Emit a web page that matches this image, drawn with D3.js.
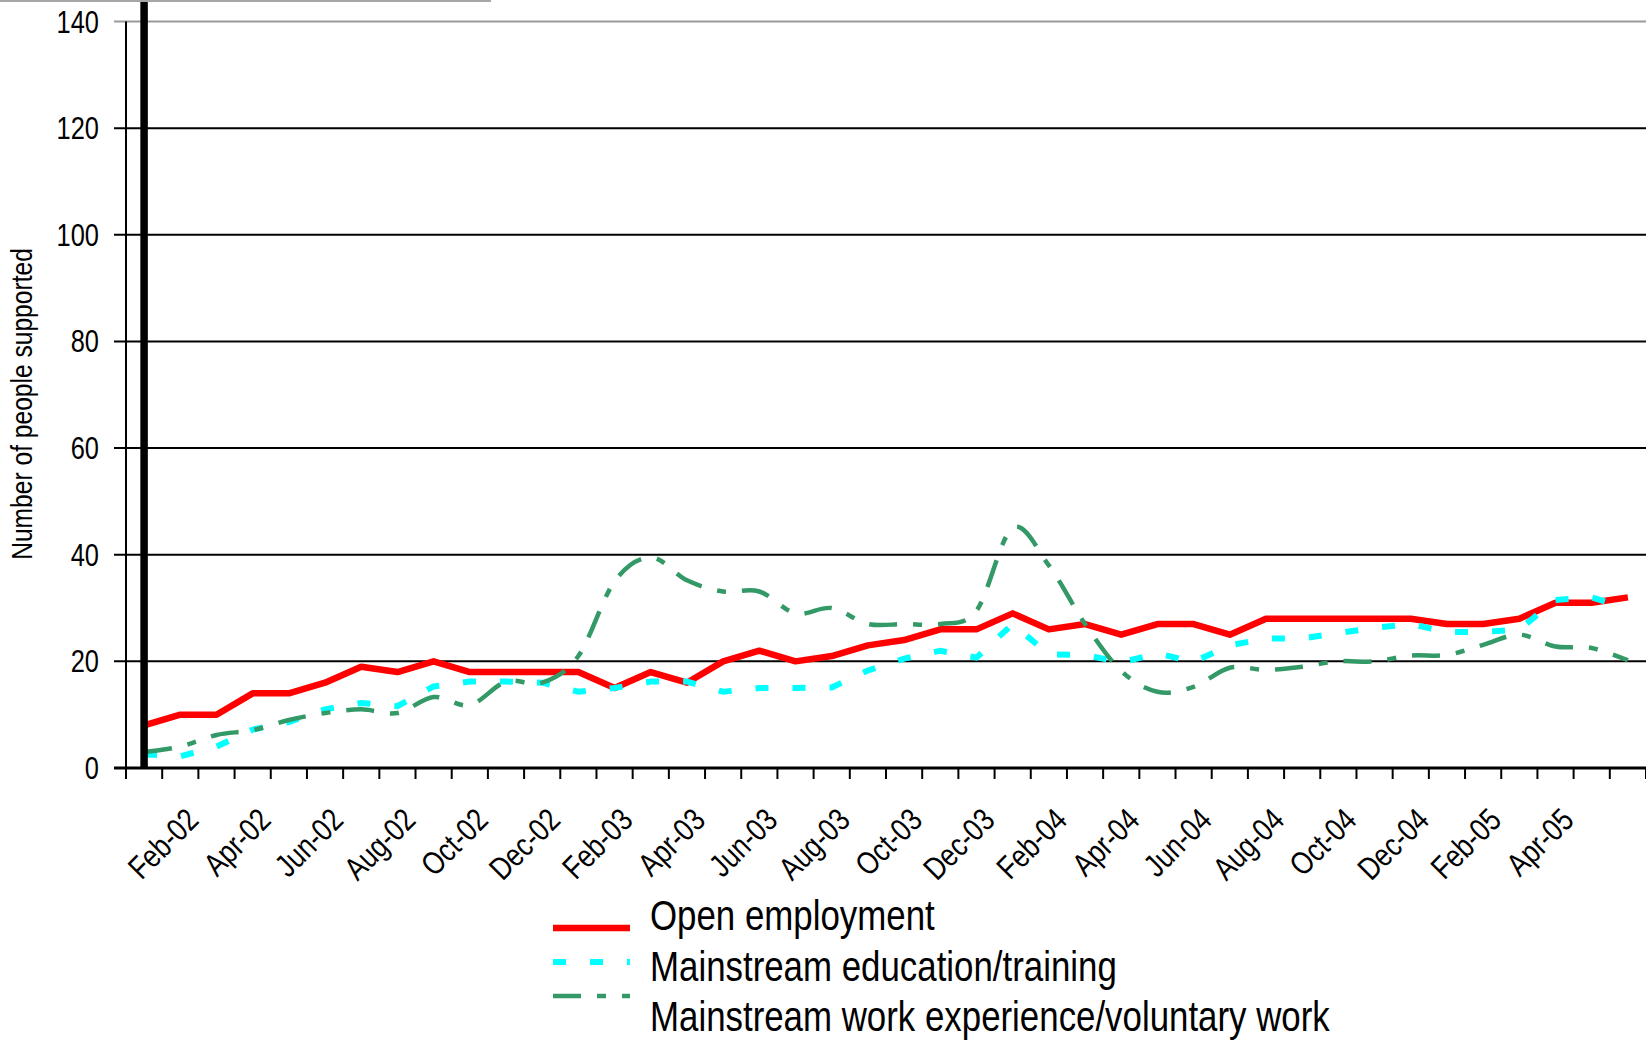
<!DOCTYPE html>
<html>
<head>
<meta charset="utf-8">
<script src="https://cdn.jsdelivr.net/npm/d3@7"></script>
<style>
  html, body { margin: 0; padding: 0; background: #fff; }
  svg { display: block; }
</style>
</head>
<body>
<div id="chart"></div>
<script>
// categories: one per month, Jan-02 .. Jun-05
const months = [
  "Jan-02", "Feb-02", "Mar-02", "Apr-02", "May-02", "Jun-02", "Jul-02", "Aug-02", "Sep-02", "Oct-02", "Nov-02", "Dec-02",
  "Jan-03", "Feb-03", "Mar-03", "Apr-03", "May-03", "Jun-03", "Jul-03", "Aug-03", "Sep-03", "Oct-03", "Nov-03", "Dec-03",
  "Jan-04", "Feb-04", "Mar-04", "Apr-04", "May-04", "Jun-04", "Jul-04", "Aug-04", "Sep-04", "Oct-04", "Nov-04", "Dec-04",
  "Jan-05", "Feb-05", "Mar-05", "Apr-05", "May-05", "Jun-05"
];

// month labels that are printed under the axis
const monthLabels = [
  "Feb-02", "Apr-02", "Jun-02", "Aug-02", "Oct-02", "Dec-02",
  "Feb-03", "Apr-03", "Jun-03", "Aug-03", "Oct-03", "Dec-03",
  "Feb-04", "Apr-04", "Jun-04", "Aug-04", "Oct-04", "Dec-04",
  "Feb-05", "Apr-05"
];

const openEmployment = [
  8, 10, 10, 14, 14, 16, 19, 18, 20, 18, 18, 18,
  18, 15, 18, 16, 20, 22, 20, 21, 23, 24, 26, 26,
  29, 26, 27, 25, 27, 27, 25, 28, 28, 28, 28, 28,
  27, 27, 28, 31, 31, 32
];

const educationTraining = [
  2.6, 2.2, 4.0, 7.2, 8.6, 11.0, 12.2, 11.6, 15.3, 16.2, 16.2, 16.0,
  14.3, 15.0, 16.2, 16.2, 14.3, 15.0, 15.0, 15.1, 18.3, 20.5, 22.0, 20.7,
  27.0, 21.3, 21.2, 19.8, 21.5, 19.9, 23.0, 24.3, 24.3, 25.3, 26.3, 27.0,
  25.5, 25.5, 26.0, 31.5, 32.0, 30.0
];

const workExperience = [
  3.0, 4.0, 6.2, 7.1, 9.0, 10.3, 11.0, 10.3, 13.3, 11.8, 16.2, 16.0,
  21.0, 35.0, 39.5, 35.2, 33.1, 33.1, 29.0, 30.0, 27.0, 27.0, 27.0, 29.5,
  45.0, 38.0, 27.0, 18.2, 14.3, 15.2, 18.8, 18.4, 19.0, 20.0, 20.0, 21.1,
  21.2, 23.1, 25.0, 22.8, 22.5, 20.2
];

const yTicks = [0, 20, 40, 60, 80, 100, 120, 140];
const seriesNames = ["Open employment", "Mainstream education/training", "Mainstream work experience/voluntary work"];
const yTitle = "Number of people supported";

const W = 1646, H = 1045;

const svg = d3.select("#chart")
  .append("svg")
  .attr("width", W)
  .attr("height", H);

// check whether the narrow face is really there, otherwise squeeze the normal one
function measure(family) {
  const t = svg.append("text").attr("font-family", family).attr("font-size", 40).text("Mainstream work");
  const w = t.node().getComputedTextLength();
  t.remove();
  return w;
}
const hasNarrow = Math.abs(measure("'Liberation Sans Narrow', monospace") - measure("monospace")) > 1;
const FONT = hasNarrow ? "'Liberation Sans Narrow', 'Arial Narrow', sans-serif" : "'Liberation Sans', Arial, sans-serif";
const SX = hasNarrow ? 1 : 0.82;

const x = d3.scaleBand()
  .domain(months)
  .range([126, W]);

const y = d3.scaleLinear()
  .domain([0, 140])
  .range([768, 21.5]);

const cx = m => x(m) + x.bandwidth() / 2;

// little grey rule on top
svg.append("line")
  .attr("x1", 0).attr("x2", 491)
  .attr("y1", 1).attr("y2", 1)
  .attr("stroke", "#a6a6a6")
  .attr("stroke-width", 2);

// gridlines (with the outer tick on the left)
svg.append("g")
  .selectAll("line")
  .data(yTicks.filter(v => v > 0))
  .join("line")
  .attr("x1", 114).attr("x2", W)
  .attr("y1", d => y(d)).attr("y2", d => y(d))
  .attr("stroke", d => d === 140 ? "#9a9a9a" : "#000")
  .attr("stroke-width", 2);

// y axis line
svg.append("line")
  .attr("x1", x.range()[0]).attr("x2", x.range()[0])
  .attr("y1", y(140)).attr("y2", y(0))
  .attr("stroke", "#000")
  .attr("stroke-width", 2);

// x axis line
svg.append("line")
  .attr("x1", 114).attr("x2", W)
  .attr("y1", y(0)).attr("y2", y(0))
  .attr("stroke", "#000")
  .attr("stroke-width", 3);

// x ticks sit between the categories
const tickXs = months.map(m => x(m)).concat([x.range()[1]]);
svg.append("g")
  .selectAll("line")
  .data(tickXs)
  .join("line")
  .attr("x1", d => d).attr("x2", d => d)
  .attr("y1", y(0)).attr("y2", y(0) + 11)
  .attr("stroke", "#000")
  .attr("stroke-width", 2);

// y tick labels
svg.append("g")
  .selectAll("text")
  .data(yTicks)
  .join("text")
  .attr("transform", d => `translate(99,${y(d) + 11}) scale(${SX},1)`)
  .attr("text-anchor", "end")
  .attr("font-family", FONT)
  .attr("font-size", 31)
  .attr("fill", "#000")
  .text(d => d);

// y title
svg.append("text")
  .attr("transform", `translate(32,404) rotate(-90) scale(${SX},1)`)
  .attr("text-anchor", "middle")
  .attr("font-family", FONT)
  .attr("font-size", 30)
  .attr("fill", "#000")
  .text(yTitle);

// x labels, every second month
svg.append("g")
  .selectAll("text")
  .data(monthLabels)
  .join("text")
  .attr("transform", d => `translate(${cx(d) + 20},822) rotate(-45) scale(${SX},1)`)
  .attr("text-anchor", "end")
  .attr("font-family", FONT)
  .attr("font-size", 32)
  .attr("fill", "#000")
  .text(d => d);

// series
const straight = d3.line()
  .x((d, i) => cx(months[i]))
  .y(d => y(d));

const smooth = d3.line()
  .x((d, i) => cx(months[i]))
  .y(d => y(d))
  .curve(d3.curveCardinal.tension(0));

const styles = [
  { color: "#ff0000", width: 6.5, dash: null },
  { color: "#00ffff", width: 6, dash: "13,24" },
  { color: "#339966", width: 4.5, dash: "28,16,9,16" }
];

svg.append("path")
  .attr("d", straight(openEmployment))
  .attr("fill", "none")
  .attr("stroke", styles[0].color)
  .attr("stroke-width", styles[0].width)
  .attr("stroke-linejoin", "round");

svg.append("path")
  .attr("d", straight(educationTraining))
  .attr("fill", "none")
  .attr("stroke", styles[1].color)
  .attr("stroke-width", styles[1].width)
  .attr("stroke-dasharray", styles[1].dash);

svg.append("path")
  .attr("d", smooth(workExperience))
  .attr("fill", "none")
  .attr("stroke", styles[2].color)
  .attr("stroke-width", styles[2].width)
  .attr("stroke-dasharray", styles[2].dash);

// thick black marker on the first month
svg.append("line")
  .attr("x1", cx(months[0])).attr("x2", cx(months[0]))
  .attr("y1", 2).attr("y2", y(0))
  .attr("stroke", "#000")
  .attr("stroke-width", 7.5);

// legend
const sampleY = [928, 962, 996];
const textY = [930, 981, 1031];
const legend = svg.append("g");

legend.selectAll("line")
  .data(seriesNames)
  .join("line")
  .attr("x1", 553).attr("x2", 630)
  .attr("y1", (d, i) => sampleY[i]).attr("y2", (d, i) => sampleY[i])
  .attr("stroke", (d, i) => styles[i].color)
  .attr("stroke-width", (d, i) => styles[i].width)
  .attr("stroke-dasharray", (d, i) => styles[i].dash);

legend.selectAll("text")
  .data(seriesNames)
  .join("text")
  .attr("transform", (d, i) => `translate(650,${textY[i]}) scale(${SX},1)`)
  .attr("font-family", FONT)
  .attr("font-size", 42.5)
  .attr("fill", "#000")
  .text(d => d);
</script>
</body>
</html>
